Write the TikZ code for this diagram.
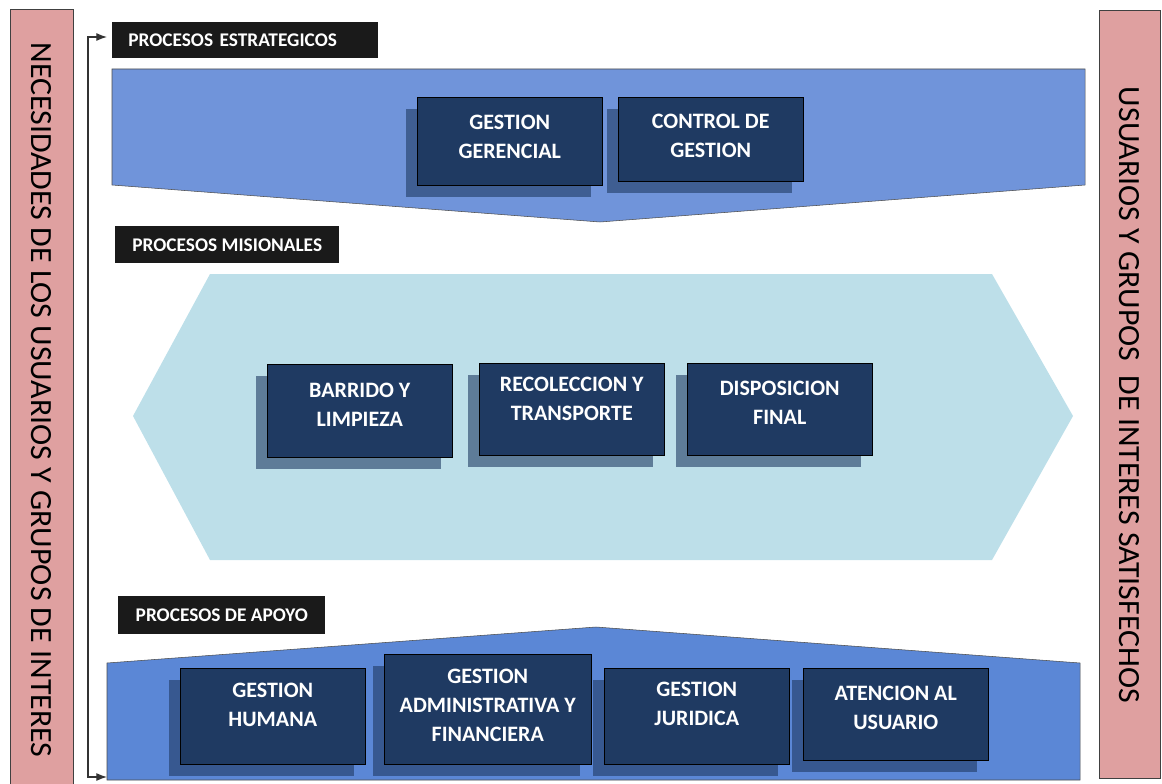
\documentclass[tikz,border=0pt]{standalone}
\usepackage{fontspec}
\setmainfont{Carlito}
\usepackage{graphicx}
\usepackage{tikz}
\usetikzlibrary{arrows.meta,shadows}
\definecolor{navy}{HTML}{1F3A62}
\definecolor{lblblack}{HTML}{1A1A1A}
\definecolor{strategicblue}{HTML}{7094DA}
\definecolor{missionblue}{HTML}{BDDFE9}
\definecolor{supportblue}{HTML}{5B87D6}
\definecolor{sidepink}{HTML}{DFA0A0}
\newdimen\pxu \pxu=0.75pt
\newcommand\procfont{\fontsize{16.5}{21.75}\selectfont\bfseries}
\newcommand\lblfont{\fontsize{14.5}{16}\selectfont\bfseries}
\tikzstyle{procbox}=[draw=black, fill=navy, text=white, font=\procfont, align=center, inner sep=0pt, minimum width=185\pxu, text depth=12\pxu, anchor=north west, general shadow={fill=navy, fill opacity=.6, shadow xshift=-11\pxu, shadow yshift=-12\pxu}]
\tikzstyle{lblbox}=[fill=lblblack, text=white, font=\lblfont, inner sep=0pt, anchor=north west]
\tikzstyle{sidebar}=[draw=black!75, fill=sidepink]
\tikzstyle{sidetext}=[rotate=-90, inner sep=0pt]

\begin{document}
\begin{tikzpicture}[x=0.75pt, y=-0.75pt, >={Latex[length=8pt, width=6pt]}]
	\useasboundingbox (0,0) rectangle (1162,784);
	% side bars
	\path[sidebar] (10,9) rectangle (73,790);
	\path[sidebar] (1099,10) rectangle (1160,778);
	\node[sidetext] (necesidades) at (41,400) {\resizebox{715\pxu}{20\pxu}{NECESIDADES DE LOS USUARIOS Y GRUPOS DE INTERES}};
	\node[sidetext] (satisfechos) at (1129,395) {\resizebox{616\pxu}{20\pxu}{USUARIOS Y GRUPOS~ DE INTERES SATISFECHOS}};
	% process bands
	\path[draw=black!70, fill=strategicblue] (112,69) -- (1085,69) -- (1085,185) -- (600,222) -- (112,185) -- cycle;
	\path[fill=missionblue] (133,416) -- (210,274) -- (992,274) -- (1073,416) -- (992,560) -- (210,560) -- cycle;
	\path[draw=black!70, fill=supportblue] (107,663) -- (596,627) -- (1080,663) -- (1080,780) -- (107,780) -- cycle;
	% labels
	\node[lblbox, inner xsep=16\pxu, text width=234\pxu, align=left, minimum height=36\pxu] (estrategicos) at (112,22) {PROCESOS ESTRATEGICOS};
	\node[lblbox, minimum width=224\pxu, minimum height=37\pxu] (misionales) at (115,226) {PROCESOS MISIONALES};
	\node[lblbox, minimum width=207\pxu, minimum height=38\pxu] (apoyo) at (118,596) {PROCESOS DE APOYO};
	% processes
	\node[procbox, minimum height=88\pxu, text depth=8\pxu] (gerencial) at (417,97) {GESTION\\GERENCIAL};
	\node[procbox, minimum height=84\pxu, text depth=6\pxu] (control) at (618,97) {CONTROL DE\\GESTION};
	\node[procbox, minimum height=93\pxu] (barrido) at (267,364) {BARRIDO Y\\LIMPIEZA};
	\node[procbox, minimum height=92\pxu, text depth=20\pxu] (recoleccion) at (479,363) {RECOLECCION Y\\TRANSPORTE};
	\node[procbox, minimum height=92\pxu] (disposicion) at (687,363) {DISPOSICION\\FINAL};
	\node[procbox, minimum height=96\pxu, text depth=22\pxu] (humana) at (180,668) {GESTION\\HUMANA};
	\node[procbox, minimum height=110\pxu, minimum width=207\pxu, text depth=8\pxu] (administrativa) at (384,654) {GESTION\\ADMINISTRATIVA Y\\FINANCIERA};
	\node[procbox, minimum height=96\pxu, text depth=24\pxu] (juridica) at (604,668) {GESTION\\JURIDICA};
	\node[procbox, minimum height=92\pxu] (atencion) at (803,668) {ATENCION AL\\USUARIO};
	% feedback arrow
	\coordinate (ftopend) at (107,37);
	\coordinate (ftop) at (88,37);
	\coordinate (fbot) at (88,777);
	\coordinate (fbotend) at (107,777);
	\path[draw=black!80, line width=0.9pt, <->] (ftopend) -- (ftop) -- (fbot) -- (fbotend);
\end{tikzpicture}
\end{document}
